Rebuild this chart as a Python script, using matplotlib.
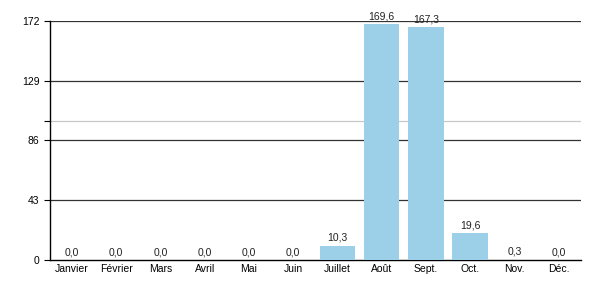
import matplotlib.pyplot as plt

plt.rcParams['font.family'] = ['Liberation Sans', 'DejaVu Sans']

months = ['Janvier', 'Février', 'Mars', 'Avril', 'Mai', 'Juin',
          'Juillet', 'Août', 'Sept.', 'Oct.', 'Nov.', 'Déc.']
rain = [0.0, 0.0, 0.0, 0.0, 0.0, 0.0, 10.3, 169.6, 167.3, 19.6, 0.3, 0.0]
yticks = [0, 43, 86, 129, 172]
ref_level = 100

fig = plt.figure(figsize=(6, 3), dpi=100)
ax = fig.add_axes([0.083, 0.133, 0.885, 0.798])

x = range(len(months))
ax.bar(x, rain, width=0.8, color='#9ccfe8', zorder=3)

for i, v in zip(x, rain):
    ax.text(i, v + 2, f'{v:.1f}'.replace('.', ','), ha='center', va='bottom',
            fontsize=7.5, color='#222222', zorder=4)

for t in yticks[1:]:
    ax.axhline(t, color='#333333', lw=0.9, zorder=1)
ax.axhline(ref_level, color='#c8c8c8', lw=0.9, zorder=1)

ax.set_xlim(-0.5, len(months) - 0.5)
ax.set_ylim(0, 172)
ax.set_yticks(yticks)
ax.set_yticks([ref_level], minor=True)
ax.tick_params(axis='y', which='minor', length=4, width=0.8)
ax.tick_params(axis='y', which='major', length=4, width=0.8, labelsize=7.5)
ax.set_xticks(list(x))
ax.set_xticklabels(months)
ax.tick_params(axis='x', length=0, labelsize=7.5, pad=3)

for s in ['top', 'right']:
    ax.spines[s].set_visible(False)
ax.spines['left'].set_linewidth(1.0)
ax.spines['bottom'].set_linewidth(1.0)

plt.savefig('out.png')
